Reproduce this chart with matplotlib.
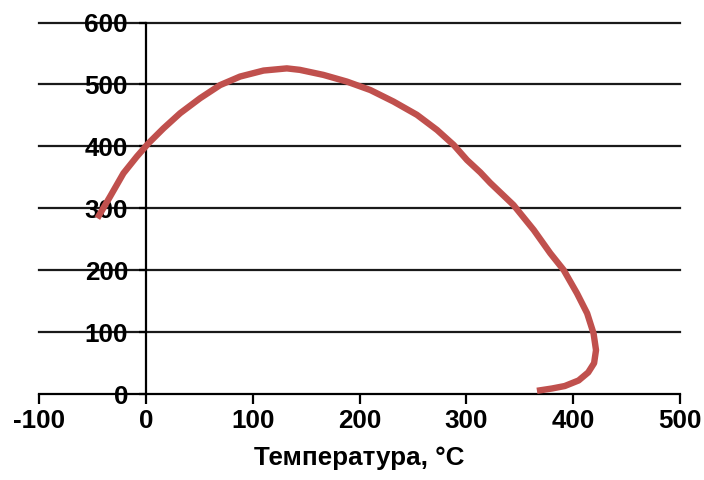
import matplotlib
matplotlib.use("Agg")
import matplotlib.pyplot as plt

plt.rcParams['font.family'] = ['Liberation Sans', 'DejaVu Sans']

temperature = [-45.6, -33.7, -21.2, -8.7, 2.2, 16.2, 31.9, 50.6, 69.3, 88.0,
               110.0, 131.8, 144.0, 166.0, 188.0, 210.0, 231.7, 253.6, 272.4,
               288.0, 300.5, 313.0, 322.3, 344.0, 363.0, 378.5, 391.0, 403.5,
               413.0, 419.0, 421.3, 419.5, 414.0, 405.0, 392.0, 380.0, 366.0]
values = [284.0, 319.0, 356.6, 383.5, 405.0, 429.0, 453.6, 477.8, 499.0, 512.8,
          522.5, 526.0, 523.6, 515.5, 504.7, 491.0, 472.4, 451.0, 426.6,
          402.4, 378.0, 358.0, 341.0, 305.4, 265.0, 227.4, 200.4, 162.7,
          130.4, 98.0, 71.0, 50.0, 35.0, 22.0, 13.0, 9.0, 5.3]

x_ticks = [-100, 0, 100, 200, 300, 400, 500]
y_ticks = [0, 100, 200, 300, 400, 500, 600]
x_label = "Температура, °C"

fig = plt.figure(figsize=(7.04, 4.8), dpi=100)
ax = fig.add_axes([0.0558, 0.179, 0.966 - 0.0558, 0.953 - 0.179])

ax.set_xlim(-100, 500)
ax.set_ylim(0, 600)

for y in y_ticks[1:]:
    ax.axhline(y, color='#1a1a1a', lw=1.6, zorder=1, clip_on=False)

ax.plot(temperature, values, color='#C0504D', lw=4.6,
        solid_capstyle='butt', solid_joinstyle='round', zorder=3)

ax.spines['top'].set_visible(False)
ax.spines['right'].set_visible(False)
ax.spines['left'].set_position(('data', 0))
ax.spines['left'].set_linewidth(1.6)
ax.spines['bottom'].set_linewidth(1.6)
ax.spines['left'].set_zorder(2)

ax.set_xticks(x_ticks)
ax.set_yticks(y_ticks)
ax.set_xticklabels([str(v) for v in x_ticks])
ax.set_yticklabels([str(v) for v in y_ticks])

ax.tick_params(axis='x', direction='out', length=7, width=1.6, pad=4,
               labelsize=18.7)
ax.tick_params(axis='y', direction='out', length=5, width=1.6, pad=8,
               labelsize=18.7)
for lbl in ax.get_xticklabels() + ax.get_yticklabels():
    lbl.set_fontweight('bold')

ax.set_xlabel(x_label, fontsize=18.7, fontweight='bold', labelpad=9)

fig.savefig("out.png", dpi=100)
